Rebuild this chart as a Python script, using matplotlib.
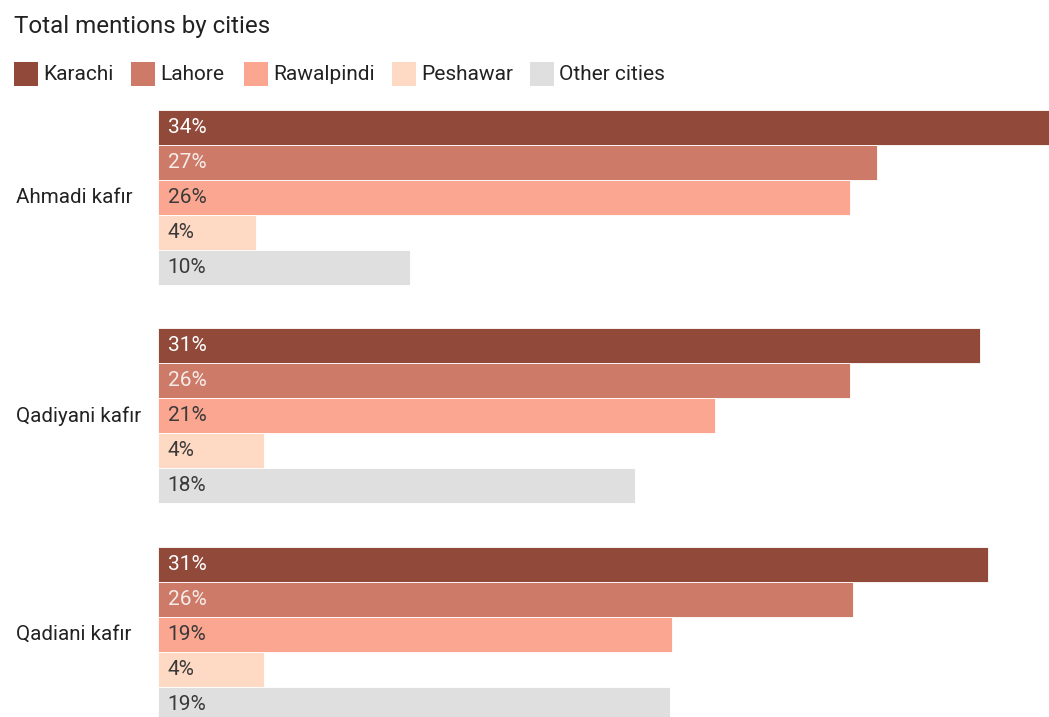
import matplotlib.pyplot as plt
from matplotlib.patches import Rectangle

plt.rcParams['font.family'] = ['Roboto', 'DejaVu Sans']

groups = ['Ahmadi kafır', 'Qadiyani kafır', 'Qadiani kafır']
cities = ['Karachi', 'Lahore', 'Rawalpindi', 'Peshawar', 'Other cities']
colors = ['#91493a', '#cd7a69', '#fba690', '#fed9c3', '#dfdfdf']
label_colors = ['#ffffff', '#f6ece8', '#3a3a3a', '#3a3a3a', '#3a3a3a']

# share of mentions (%) per term, one list per city
karachi = [33.6, 31.0, 31.3]
lahore = [27.1, 26.1, 26.2]
rawalpindi = [26.1, 21.0, 19.4]
peshawar = [3.7, 4.0, 4.0]
other = [9.5, 18.0, 19.3]
values = [karachi, lahore, rawalpindi, peshawar, other]

W, H = 1049, 717
fig = plt.figure(figsize=(W / 100, H / 100), dpi=100)

# bars: one unit tall, groups spaced 6.24 units apart
top_px = 110
bar_px = 35
pitch = 6.24
ax = fig.add_axes([158 / W, 0, 1 - 158 / W, 1 - top_px / H])
ax.set_xlim(0, max(karachi))
ax.set_ylim((H - top_px) / bar_px, 0)
ax.axis('off')

for g, name in enumerate(groups):
    for i, city in enumerate(cities):
        v = values[i][g]
        y = g * pitch + i + 0.5
        ax.barh(y, v, height=1, color=colors[i], edgecolor='white', linewidth=0.6)
        ax.annotate(f'{round(v)}%', (0, y), xytext=(7, 0), textcoords='offset points',
                    ha='left', va='center', fontsize=15, color=label_colors[i])
    ax.annotate(name, (0, g * pitch + 2.5), xytext=(-142 * 0.72, 0),
                textcoords='offset points', ha='left', va='center',
                fontsize=14.8, color='#222222', annotation_clip=False)

fig.text(14 / W, 1 - 26 / H, 'Total mentions by cities', fontsize=17.4,
         color='#222222', ha='left', va='center')

# legend
leg_x = [14, 131, 244, 392, 530]
for x, city, c in zip(leg_x, cities, colors):
    fig.patches.append(Rectangle((x / W, 1 - 86 / H), 24 / W, 24 / H,
                                 transform=fig.transFigure, facecolor=c,
                                 edgecolor='none'))
    fig.text((x + 29) / W, 1 - 74 / H, city, fontsize=15, color='#222222',
             ha='left', va='center')

fig.savefig('out.png', dpi=100, facecolor='white')
